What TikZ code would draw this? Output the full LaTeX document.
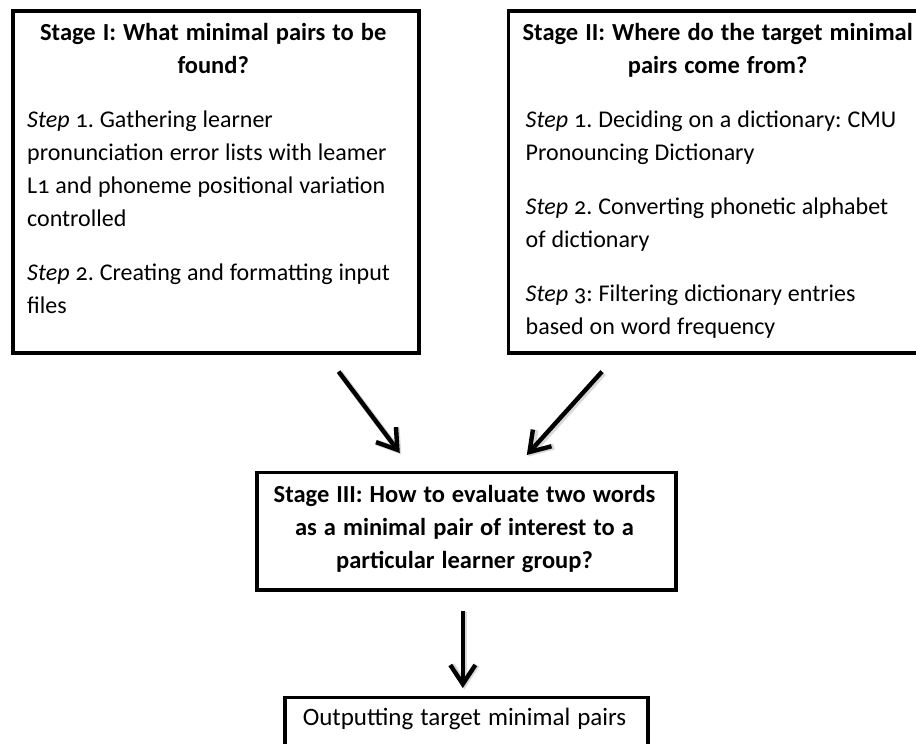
\documentclass[tikz,border=0pt]{standalone}
\usepackage{fontspec}
\setmainfont{Carlito}[Numbers=OldStyle]
\usetikzlibrary{arrows.meta}

% centred heading line, kept centred even when wider than the column
\newcommand{\headline}[1]{\makebox[\linewidth][c]{\bfseries\fontsize{24.5}{33}\selectfont
  \spaceskip=7pt plus 1pt minus 0.5pt\relax #1}}
% body text of the step lists
\newcommand{\steptext}{\raggedright\spaceskip=6pt plus 1pt minus 0.5pt\relax}

\begin{document}
\begin{tikzpicture}[x=1pt, y=-1pt,
  stagebox/.style={draw=black, line width=3.6pt, rectangle, inner sep=0pt, fill=none},
  boxtext/.style={inner sep=0pt, anchor=north west, font=\fontsize{24}{33}\selectfont\frenchspacing},
  flow/.style={line width=4.4pt, -{Straight Barb[length=19pt, width=25pt, line width=4.4pt]}},
  flowshade/.style={line width=6pt, draw=black!30, opacity=0.5,
    -{Straight Barb[length=19pt, width=25pt, line width=6pt]}}
]
\useasboundingbox (0,0) rectangle (916,744);

% stage boxes
\node[stagebox, minimum width=406pt, minimum height=342pt, anchor=north west] (s1) at (11,9) {};
\node[stagebox, minimum width=415pt, minimum height=342pt, anchor=north west] (s2) at (506.5,9) {};
\node[stagebox, minimum width=419pt, minimum height=117.5pt, anchor=north west] (s3) at (255,470.5) {};
\node[stagebox, minimum width=363pt, minimum height=70pt, anchor=north west] (s4) at (283,695.5) {};

% texts
\node[boxtext, text width=372pt] (t1) at (27,16.9) {%
  \strut\headline{Stage I: What minimal pairs to be}\par
  \headline{found?}\par
  \vspace{21pt}
  \steptext
  \strut\mbox{\textit{Step} 1. Gathering learner}\\
  \mbox{pronunciation error lists with leamer}\\
  \mbox{L1 and phoneme positional variation}\\
  controlled\par
  \vspace{21pt}
  \strut\mbox{\textit{Step} 2. Creating and formatting input}\\
  files\par};

\node[boxtext, text width=384pt] (t2) at (525.5,16.9) {%
  \strut\headline{Stage II: Where do the target minimal}\par
  \headline{pairs come from?}\par
  \vspace{21pt}
  \steptext
  \strut\mbox{\textit{Step} 1. Deciding on a dictionary: CMU}\\
  Pronouncing Dictionary\par
  \vspace{21pt}
  \strut\mbox{\textit{Step} 2. Converting phonetic alphabet}\\
  of dictionary\par
  \vspace{21pt}
  \strut\mbox{\textit{Step} 3: Filtering dictionary entries}\\
  based on word frequency\par};

\node[boxtext, text width=410pt, anchor=north] (t3) at (464.5,478.9) {%
  \strut\headline{Stage III: How to evaluate two words}\par
  \headline{as a minimal pair of interest to a}\par
  \headline{particular learner group?}\par};

\node[boxtext, text width=360pt, anchor=north] (t4) at (464.5,701.9) {%
  \centering\fontsize{25}{33}\selectfont\spaceskip=7pt plus 1pt minus 0.5pt\relax
  \strut Outputting target minimal pairs\par};

% connectors
\coordinate (a1s) at ([shift={(-82,17)}]s1.south east);
\coordinate (a1e) at ([shift={(-66.5,-17.5)}]s3.north);
\coordinate (a2s) at ([shift={(95.5,17)}]s2.south west);
\coordinate (a2e) at ([shift={(60.5,-15.5)}]s3.north);
\coordinate (a3s) at ([shift={(-3.5,19)}]s3.south);
\coordinate (a3e) at ([shift={(-3.5,-7.5)}]s4.north);

\foreach \from/\to in {a1s/a1e, a2s/a2e, a3s/a3e} {
  \draw[flowshade, transform canvas={shift={(1.5pt,-1.5pt)}}] (\from) -- (\to);
  \draw[flow] (\from) -- (\to);
}
\end{tikzpicture}
\end{document}
